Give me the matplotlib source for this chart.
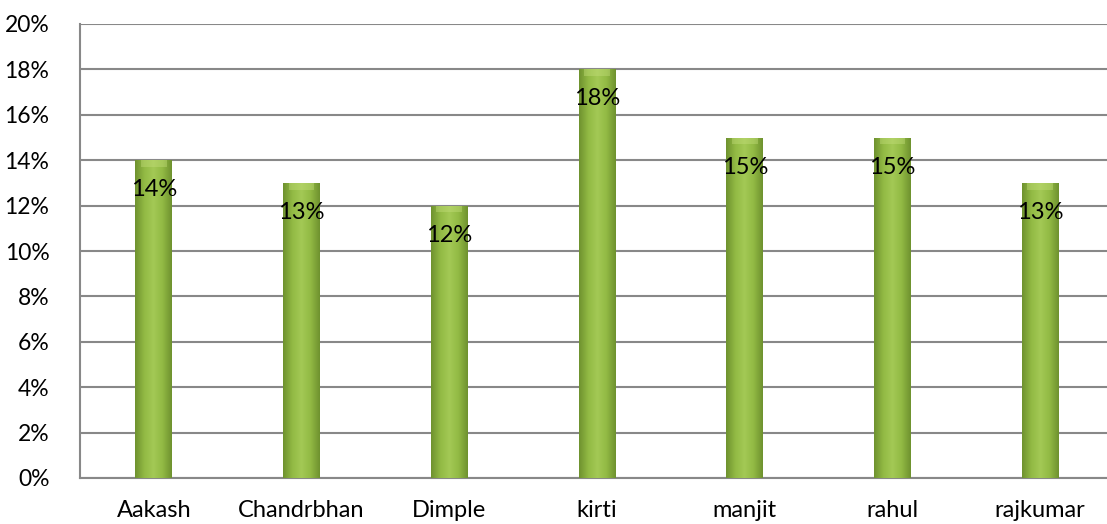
import numpy as np
import matplotlib.pyplot as plt
from matplotlib.colors import LinearSegmentedColormap

# data
names = ['Aakash', 'Chandrbhan', 'Dimple', 'kirti', 'manjit', 'rahul', 'rajkumar']
share = [0.14, 0.13, 0.12, 0.18, 0.15, 0.15, 0.13]
y_ticks = [0.00, 0.02, 0.04, 0.06, 0.08, 0.10, 0.12, 0.14, 0.16, 0.18, 0.20]

plt.rcParams['font.family'] = ['Lato', 'DejaVu Sans']

fig = plt.figure(figsize=(11.07, 5.24), dpi=100)
ax = fig.add_axes([80 / 1107, 46 / 524, 1034 / 1107, 454 / 524])

x = np.arange(len(names))
bars = ax.bar(x, share, width=0.25, color='#8db43f', zorder=3)

# horizontal gradient in each bar (darker edges, lighter centre)
green = LinearSegmentedColormap.from_list(
    'g', ['#6f922f', '#92ba44', '#a3c955', '#92ba44', '#6f922f'])
grad = np.linspace(0, 1, 64).reshape(1, -1)
for b in bars:
    x0, y0 = b.get_x(), b.get_y()
    w, h = b.get_width(), b.get_height()
    im = ax.imshow(grad, cmap=green, extent=[x0, x0 + w, y0, y0 + h],
                   aspect='auto', zorder=4)
    im.set_clip_path(b)
    # light cap at the top
    ax.bar(x0 + w / 2, 0.003, bottom=y0 + h - 0.003, width=w * 0.7,
           color='#c6e07e', alpha=0.4, zorder=5)

for xi, v in zip(x, share):
    ax.text(xi, v - 0.013, f'{v * 100:.0f}%', ha='center', va='center',
            fontsize=17, color='black', zorder=6)

ax.set_xlim(-0.5, len(names) - 0.5)
ax.set_ylim(0, 0.20)
ax.set_yticks(y_ticks)
ax.set_yticklabels([f'{t * 100:.0f}%' for t in y_ticks], fontsize=16.5)
ax.set_xticks(x)
ax.set_xticklabels(names, fontsize=17)
ax.tick_params(length=0)
ax.tick_params(axis='y', pad=22)
ax.tick_params(axis='x', pad=16)

ax.grid(axis='y', color='#888888', linewidth=1.5, zorder=1)
for s in ['top', 'right']:
    ax.spines[s].set_visible(False)
for s in ['left', 'bottom']:
    ax.spines[s].set_color('#888888')
    ax.spines[s].set_linewidth(1.5)

fig.savefig('out.png', dpi=100)
